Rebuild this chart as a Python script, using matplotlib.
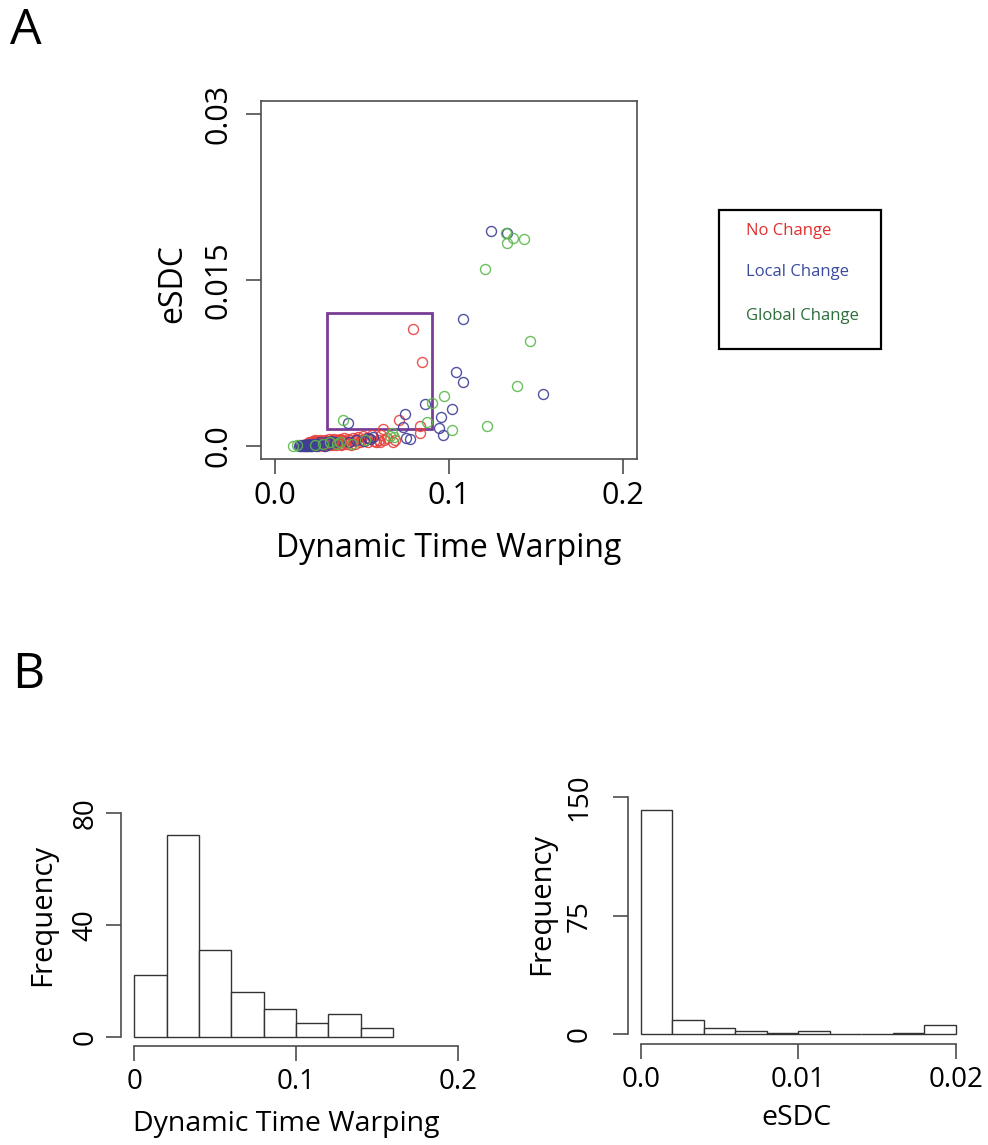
import matplotlib
matplotlib.use("Agg")
import matplotlib.pyplot as plt
import numpy as np
from matplotlib.patches import Rectangle

plt.rcParams['font.family'] = ['Open Sans', 'DejaVu Sans']

# ---- data ----
# No Change (red)
red_x = [0.0795, 0.0847, 0.0711, 0.0835, 0.0621, 0.0831, 0.0680, 0.0628,
         0.0605, 0.0645, 0.0692, 0.0612,
         0.0402, 0.0410, 0.0418, 0.0424, 0.0431, 0.0439, 0.0446, 0.0455,
         0.0462, 0.0471, 0.0480, 0.0488, 0.0497, 0.0505, 0.0514, 0.0523,
         0.0533, 0.0544, 0.0556, 0.0568, 0.0580, 0.0595,
         0.0201, 0.0206, 0.0209, 0.0213, 0.0216, 0.0221, 0.0223, 0.0228,
         0.0231, 0.0235, 0.0238, 0.0243, 0.0246, 0.0249, 0.0254, 0.0257,
         0.0262, 0.0265, 0.0269, 0.0272, 0.0277, 0.0280, 0.0285, 0.0288,
         0.0291, 0.0297, 0.0300, 0.0305, 0.0308, 0.0313, 0.0316, 0.0321,
         0.0325, 0.0330, 0.0333, 0.0339, 0.0342, 0.0347, 0.0351, 0.0356,
         0.0359, 0.0365, 0.0368, 0.0372, 0.0377, 0.0382, 0.0386, 0.0391,
         0.0394, 0.0398,
         0.0160, 0.0170, 0.0178, 0.0184, 0.0189, 0.0193, 0.0196, 0.0199]
red_y = [0.0106, 0.00758, 0.00229, 0.00178, 0.00151, 0.00112, 0.00036, 0.00048,
         0.0003, 0.0007, 0.0005, 0.0010,
         0.0004, 0.0002, 0.0006, 0.0003, 0.0005, 0.0001, 0.0007, 0.0004,
         0.0002, 0.0006, 0.0008, 0.0003, 0.0005, 0.0009, 0.0004, 0.0007,
         0.0003, 0.0006, 0.0010, 0.0004, 0.0003, 0.0005,
         0.0001, 0.0003, 0.0000, 0.0002, 0.0004, 0.0001, 0.0003, 0.0002,
         0.0005, 0.0001, 0.0002, 0.0004, 0.0000, 0.0003, 0.0001, 0.0005,
         0.0002, 0.0003, 0.0001, 0.0004, 0.0002, 0.0000, 0.0003, 0.0005,
         0.0001, 0.0002, 0.0004, 0.0003, 0.0006, 0.0001, 0.0003, 0.0002,
         0.0005, 0.0001, 0.0004, 0.0002, 0.0006, 0.0003, 0.0001, 0.0005,
         0.0002, 0.0004, 0.0003, 0.0006, 0.0001, 0.0005, 0.0002, 0.0004,
         0.0007, 0.0003,
         0.0001, 0.0000, 0.0002, 0.0001, 0.0000, 0.0003, 0.0001, 0.0002]

# Local Change (blue)
blue_x = [0.1243, 0.1332, 0.1079, 0.1042, 0.1079, 0.1540, 0.0864, 0.1019,
          0.0749, 0.0956, 0.0418,
          0.0734, 0.0941, 0.0964, 0.0751, 0.0774,
          0.0425, 0.0468, 0.0512, 0.0535, 0.0548, 0.0565,
          0.0202, 0.0208, 0.0215, 0.0221, 0.0228, 0.0236, 0.0243, 0.0251,
          0.0259, 0.0268, 0.0276, 0.0285, 0.0296, 0.0308, 0.0322, 0.0345,
          0.0140, 0.0146, 0.0152, 0.0158, 0.0163, 0.0168, 0.0172, 0.0177,
          0.0181, 0.0186, 0.0190, 0.0195]
blue_y = [0.01946, 0.01922, 0.01148, 0.00664, 0.00580, 0.00468, 0.00375, 0.00329,
          0.00287, 0.00263, 0.00205,
          0.00172, 0.00163, 0.00094, 0.00073, 0.00061,
          0.0003, 0.0005, 0.0004, 0.0007, 0.0006, 0.0008,
          0.0000, 0.0001, 0.0000, 0.0002, 0.0001, 0.0000, 0.0002, 0.0001,
          0.0003, 0.0001, 0.0002, 0.0000, 0.0003, 0.0002, 0.0004, 0.0003,
          0.0000, 0.0001, 0.0000, 0.0000, 0.0001, 0.0000, 0.0001, 0.0000,
          0.0001, 0.0000, 0.0002, 0.0001]

# Global Change (green)
green_x = [0.1328, 0.1366, 0.1431, 0.1332, 0.1207, 0.1464, 0.1390, 0.0973,
           0.0902, 0.0872, 0.0389,
           0.1217, 0.1015, 0.0674, 0.0684, 0.0660,
           0.0445, 0.0520,
           0.0232, 0.0275, 0.0318, 0.0355, 0.0372,
           0.0105, 0.0125]
green_y = [0.01928, 0.01876, 0.01873, 0.01837, 0.01601, 0.00952, 0.00544, 0.00450,
           0.00390, 0.00211, 0.00229,
           0.00178, 0.00145, 0.00115, 0.00079, 0.0009,
           0.0002, 0.0005,
           0.0001, 0.0002, 0.0003, 0.0002, 0.0003,
           0.0000, 0.0001]

groups = ['No Change', 'Local Change', 'Global Change']
point_colors = ['#e8413c', '#3e3e98', '#5bb84b']
label_colors = ['#e0302e', '#3a4b9c', '#2b6e3b']

# highlighted region (DTW range, eSDC range)
box_x = [0.03, 0.09]
box_y = [0.0015, 0.012]

dtw_breaks = [0, 0.02, 0.04, 0.06, 0.08, 0.10, 0.12, 0.14, 0.16]
esdc_breaks = [0, 0.002, 0.004, 0.006, 0.008, 0.010, 0.012, 0.014, 0.016,
               0.018, 0.020]

W, H = 988, 1145
fig = plt.figure(figsize=(W / 100, H / 100), dpi=100)
fig.patch.set_facecolor('white')

axis_col = '#4d4d4d'


def fig_rect(left, top, right, bottom):
    return [left / W, 1 - bottom / H, (right - left) / W, (bottom - top) / H]


def r_style(ax, fs, ypad):
    ax.tick_params(direction='out', length=11, width=1.2, color=axis_col,
                   labelsize=fs)
    ax.tick_params(axis='x', pad=5)
    ax.tick_params(axis='y', pad=ypad)
    for lab in ax.get_yticklabels():
        lab.set_rotation(90)
        lab.set_va('center')


# ---- panel A: scatter ----
ax = fig.add_axes(fig_rect(261, 101, 637, 459))
xs = [red_x, blue_x, green_x]
ys = [red_y, blue_y, green_y]
for x, y, c in zip(xs, ys, point_colors):
    ax.plot(x, y, 'o', mfc='none', mec=c, ms=7.2, mew=1.0, alpha=0.9)
ax.add_patch(Rectangle((box_x[0], box_y[0]), box_x[1] - box_x[0],
                       box_y[1] - box_y[0], fill=False, ec='#7a3d96', lw=2))
ax.set_xlim(-0.008, 0.208)
ax.set_ylim(-0.0012, 0.0312)
ax.set_xticks([0, 0.1, 0.2])
ax.set_xticklabels(['0.0', '0.1', '0.2'])
ax.set_yticks([0, 0.015, 0.03])
ax.set_yticklabels(['0.0', '0.015', '0.03'])
for s in ax.spines.values():
    s.set_color(axis_col)
    s.set_linewidth(1.2)
r_style(ax, 22, 9)
ax.set_xlabel('Dynamic Time Warping', fontsize=23, va='center')
ax.set_ylabel('eSDC', fontsize=23, va='center')
ax.xaxis.set_label_coords(0.5, -0.249)
ax.yaxis.set_label_coords(-0.235, 0.49)

# legend box
fig.add_artist(Rectangle((719 / W, 1 - 349 / H), 162 / W, 139 / H,
                         transform=fig.transFigure, fill=False,
                         ec='black', lw=1.6))
for name, c, yp in zip(groups, label_colors, [231, 272, 316]):
    fig.text(746 / W, 1 - yp / H, name, color=c, fontsize=12, va='center')

fig.text(10 / W, 1 - 6 / H, 'A', fontsize=36, va='top')
fig.text(12 / W, 1 - 651 / H, 'B', fontsize=36, va='top')

all_dtw = red_x + blue_x + green_x
all_esdc = red_y + blue_y + green_y

# ---- panel B left: DTW histogram ----
ax1 = fig.add_axes(fig_rect(121.4, 803.7, 470.6, 1045.7))
ax1.hist(all_dtw, bins=dtw_breaks, facecolor='white', edgecolor='#333333',
         linewidth=1.0)
ax1.set_xlim(-0.008, 0.208)
ax1.set_ylim(-3.2, 83.2)
ax1.set_xticks([0, 0.1, 0.2])
ax1.set_xticklabels(['0', '0.1', '0.2'])
ax1.set_yticks([0, 40, 80])
ax1.spines['left'].set_bounds(0, 80)
ax1.spines['bottom'].set_bounds(0, 0.2)

# ---- panel B right: eSDC histogram ----
ax2 = fig.add_axes(fig_rect(628.4, 787.8, 968.3, 1043.8))
ax2.hist(all_esdc, bins=esdc_breaks, facecolor='white', edgecolor='#333333',
         linewidth=1.0)
ax2.set_xlim(-0.0008, 0.0208)
ax2.set_ylim(-6, 156)
ax2.set_xticks([0, 0.01, 0.02])
ax2.set_xticklabels(['0.0', '0.01', '0.02'])
ax2.set_yticks([0, 75, 150])
ax2.spines['left'].set_bounds(0, 150)
ax2.spines['bottom'].set_bounds(0, 0.02)

for a, xl, yp in [(ax1, 'Dynamic Time Warping', 5), (ax2, 'eSDC', 14)]:
    a.spines['top'].set_visible(False)
    a.spines['right'].set_visible(False)
    for s in ['left', 'bottom']:
        a.spines[s].set_color(axis_col)
        a.spines[s].set_linewidth(1.2)
    r_style(a, 20, yp)
    a.set_xlabel(xl, fontsize=20.5, va='center')
    a.set_ylabel('Frequency', fontsize=21, va='center')

ax1.xaxis.set_label_coords(0.473, -0.322)
ax1.yaxis.set_label_coords(-0.225, 0.54)
ax2.xaxis.set_label_coords(0.496, -0.29)
ax2.yaxis.set_label_coords(-0.255, 0.545)

fig.savefig('out.png', dpi=100, facecolor='white')
